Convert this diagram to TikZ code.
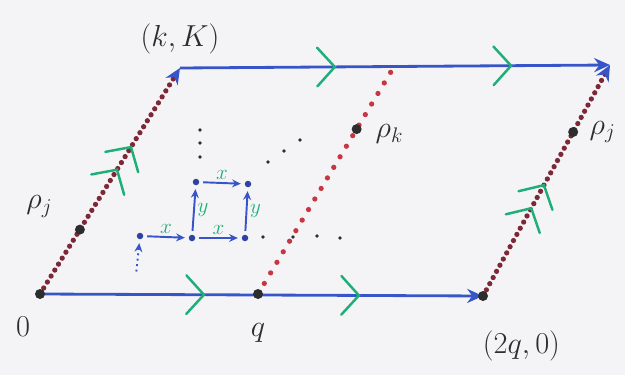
\documentclass[tikz,border=0pt]{standalone}
\usepackage{tikz}
\usetikzlibrary{arrows.meta,positioning,calc,decorations.markings}
\definecolor{edgeblue}{RGB}{55,85,200}
\definecolor{chevgreen}{RGB}{30,175,120}
\definecolor{dotred}{RGB}{200,55,65}
\definecolor{dotmaroon}{RGB}{125,40,55}
\definecolor{inkgray}{RGB}{45,45,45}
\definecolor{paper}{RGB}{244,244,246}

\begin{document}
\begin{tikzpicture}[x=0.02cm, y=-0.02cm,
  edge/.style={draw=edgeblue, line width=1.6pt,
    -{Stealth[length=9pt,width=8pt]}},
  sidedots/.style={dotmaroon, line width=3pt, line cap=round,
    dash pattern=on 0pt off 4pt,
    -{Stealth[length=9pt,width=8pt,color=edgeblue]}},
  middots/.style={dotred, line width=3pt, line cap=round,
    dash pattern=on 0pt off 7pt},
  chevron at/.style={postaction={decorate, decoration={markings,
    mark=at position #1 with {\draw[chevgreen, solid, -, line width=1.4pt,
      line cap=round] (-10pt,-11pt) -- (0,0) -- (-10pt,11pt);}}}},
  bigdot/.style={circle, fill=inkgray, inner sep=0pt, minimum size=0.2cm},
  smalldot/.style={circle, fill=edgeblue!80!black, inner sep=0pt,
    minimum size=0.13cm},
  latarrow/.style={edgeblue, line width=1.1pt, shorten <=2pt, shorten >=2pt,
    -{Stealth[length=5pt,width=4.5pt]}},
  lab/.style={text=inkgray, font=\LARGE},
  xylab/.style={text=chevgreen, font=\large, inner sep=1.5pt}
]
\fill[paper] (0,0) rectangle (625,375);
\useasboundingbox (0,0) rectangle (625,375);

% Corners
\coordinate (O) at (40,294);
\coordinate (K) at (180,68);
\coordinate (Q) at (258,294);
\coordinate (T) at (395,65);
\coordinate (Q2) at (483,296);
\coordinate (TR) at (610,65);

% Sides
\draw[middots] (Q) -- (T);
\draw[sidedots, chevron at=0.55, chevron at=0.65] (O) -- (K);
\draw[sidedots, chevron at=0.38, chevron at=0.48] (Q2) -- (TR);
\draw[edge, chevron at=0.37, chevron at=0.72] (O) -- (Q2);
\draw[edge, chevron at=0.36, chevron at=0.77] (K) -- (TR);

% Points
\node[bigdot] (dO) at (O) {};
\node[bigdot] (dQ) at (Q) {};
\node[bigdot] (dQ2) at (Q2) {};
\node[bigdot] (rj1) at ($(O)!0.285!(K)$) {};
\node[bigdot] (rk) at ($(Q)!0.72!(T)$) {};
\node[bigdot] (rj2) at ($(Q2)!0.71!(TR)$) {};

% Labels
\node[lab, above left=0.05cm and 0.35cm of rj1] {$\rho_j$};
\node[lab, right=0.15cm of rk, yshift=-0.1cm] {$\rho_k$};
\node[lab, right=0.1cm of rj2] {$\rho_j$};
\node[lab, above=0.15cm of K] {$(k,K)$};
\node[lab, below left=0.25cm and 0.0cm of dO] {$0$};
\node[lab, below=0.35cm of dQ] {$q$};
\node[lab, below right=0.5cm and -0.2cm of dQ2] {$(2q,0)$};

% Lattice
\node[smalldot] (a) at (140,236) {};
\node[smalldot] (b) at (192,238) {};
\node[smalldot] (c) at (245,238) {};
\node[smalldot] (d) at (196,182) {};
\node[smalldot] (e) at (248,184) {};
\coordinate (a0) at (136,275);
\draw[latarrow] (a) -- node[xylab, above] {$x$} (b);
\draw[latarrow] (b) -- node[xylab, above] {$x$} (c);
\draw[latarrow] (d) -- node[xylab, above] {$x$} (e);
\draw[latarrow] (b) -- node[xylab, right] {$y$} (d);
\draw[latarrow] (c) -- node[xylab, right] {$y$} (e);
\draw[latarrow, dotted] (a0) -- (a);

% and so on
\foreach \px/\py in {200/130, 200/143, 200/157, 268/162, 284/151, 300/140,
  263/237, 293/237, 317/236, 340/238}
  \fill[inkgray] (\px,\py) circle (1.1pt);
\end{tikzpicture}
\end{document}
